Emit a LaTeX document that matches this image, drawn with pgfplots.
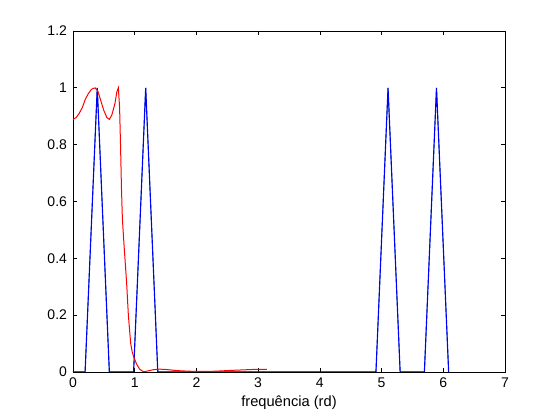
\documentclass[border=0pt]{standalone}
\usepackage{fontspec}
\setmainfont{Liberation Sans}
\usepackage{pgfplots}
\pgfplotsset{compat=1.18}

% 1px of the 560x420 reference = 0.75pt
\pgfplotstableread{
x y
0 0
0.196 0
0.393 1
0.589 0
0.982 0
1.178 1
1.374 0
4.909 0
5.105 1
5.301 0
5.694 0
5.890 1
6.087 0
}\ideal

\pgfplotstableread{
x y
0 0.889
0.05 0.895
0.1 0.91
0.15 0.93
0.2 0.96
0.25 0.98
0.3 0.995
0.357 1.0
0.4 0.99
0.45 0.955
0.5 0.92
0.55 0.895
0.59 0.889
0.63 0.905
0.68 0.945
0.71 0.985
0.735 1.0
0.755 0.93
0.77 0.8
0.785 0.65
0.80 0.54
0.826 0.45
0.87 0.31
0.897 0.2
0.935 0.1
0.96 0.07
0.99 0.05
1.03 0.028
1.08 0.01
1.14 0.001
1.2 0.003
1.3 0.008
1.4 0.01
1.5 0.009
1.68 0.005
1.85 0.003
2.0 0.002
2.2 0.002
2.33 0.003
2.5 0.005
2.71 0.007
2.92 0.009
3.14 0.009
}\filtro

\begin{document}
\begin{tikzpicture}
\path[use as bounding box] (-54.75pt,-36pt) rectangle (365.25pt,279pt);
\begin{axis}[
  scale only axis,
  width=324pt, height=255.75pt,
  xmin=0, xmax=7, ymin=0, ymax=1.2,
  xtick={0,1,...,7},
  ytick={0,0.2,0.4,0.6,0.8,1,1.2},
  yticklabels={0,0.2,0.4,0.6,0.8,1,1.2},
  tick align=inside,
  major tick length=3pt,
  minor tick num=0,
  axis line style={black, line width=0.5pt},
  every tick/.style={black, line width=0.5pt},
  tick label style={font=\fontsize{10.5}{12}\selectfont},
  label style={font=\fontsize{11}{13}\selectfont},
  /pgf/number format/assume math mode=true,
  xlabel={frequência (rd)},
  xlabel style={yshift=1pt},
  xticklabel style={yshift=-1pt},
  yticklabel style={xshift=-1pt},
]
\addplot[color={rgb,255:red,0;green,128;blue,0}, line width=0.5pt] table {\ideal};
\addplot[blue, line width=0.85pt] table {\ideal};
\addplot[red, line width=0.75pt] table {\filtro};
\end{axis}
\end{tikzpicture}
\end{document}
